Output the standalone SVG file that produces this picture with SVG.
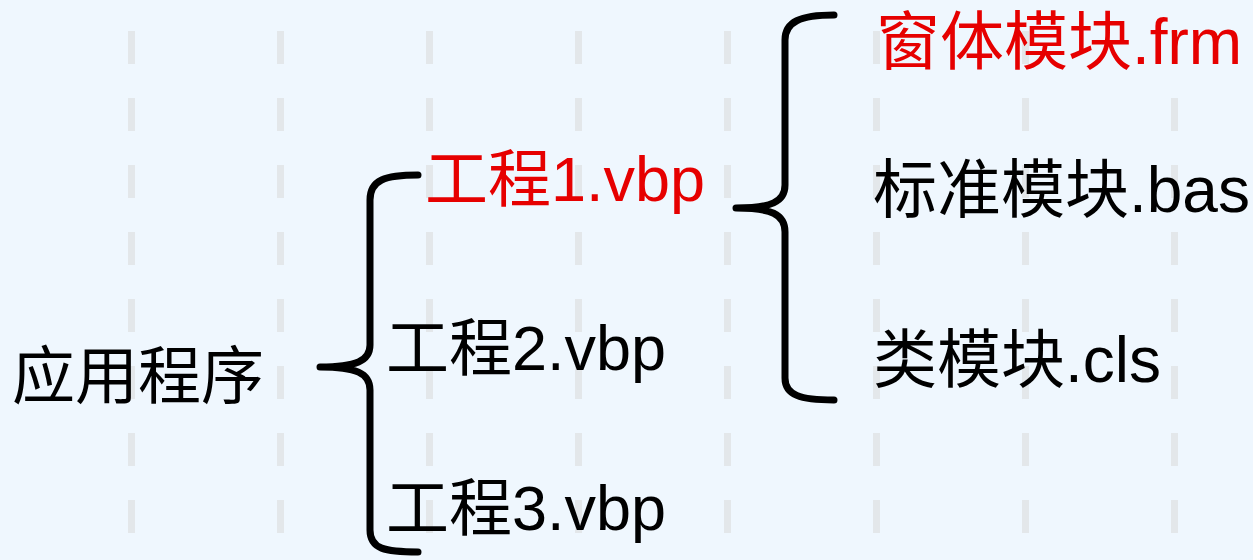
<svg xmlns="http://www.w3.org/2000/svg" width="1253" height="560" viewBox="0 0 1253 560">
  <style>
    .grid { stroke: #E3E7EA; stroke-width: 7; stroke-dasharray: 33 34; fill: none; }
    .brace { stroke: #000000; stroke-width: 7; fill: none; stroke-linecap: round; stroke-linejoin: round; }
    .t { font-family: "Liberation Sans", "Noto Sans CJK SC", sans-serif; font-size: 63px; fill: #000000; }
    .big { font-size: 64px; }
    .red { fill: #E60000; }
  </style>
  <rect x="0" y="0" width="1253" height="560" fill="#EFF7FE"/>
  <g id="grid">
    <line class="grid" x1="131.5" y1="31" x2="131.5" y2="534"/>
    <line class="grid" x1="280.5" y1="31" x2="280.5" y2="534"/>
    <line class="grid" x1="429.5" y1="31" x2="429.5" y2="534"/>
    <line class="grid" x1="578.5" y1="31" x2="578.5" y2="534"/>
    <line class="grid" x1="727.5" y1="31" x2="727.5" y2="534"/>
    <line class="grid" x1="876.5" y1="31" x2="876.5" y2="534"/>
    <line class="grid" x1="1025.5" y1="31" x2="1025.5" y2="534"/>
    <line class="grid" x1="1174.5" y1="31" x2="1174.5" y2="534"/>
  </g>
  <g id="connectors">
    <path class="brace" d="M418,175 C385,175 370,180 370,200 L370,345 C370,361 356,367 320,367 C356,367 370,373 370,390 L370,530 C370,549 385,552 418,552"/>
    <path class="brace" d="M834,15 C800,15 785,22 785,40 L785,185 C785,202 771,208 736,208 C771,208 785,214 785,232 L785,378 C785,395 800,400 834,400"/>
  </g>
  <g id="app"><text class="t" x="12" y="398">应用程序</text></g>
  <g id="proj1"><text class="t red" x="425" y="201">工程1.vbp</text></g>
  <g id="proj2"><text class="t" x="386" y="370">工程2.vbp</text></g>
  <g id="proj3"><text class="t" x="386" y="530">工程3.vbp</text></g>
  <g id="frm"><text class="t big red" x="876" y="64">窗体模块.frm</text></g>
  <g id="bas"><text class="t big" x="873" y="212">标准模块.bas</text></g>
  <g id="cls"><text class="t big" x="873" y="382">类模块.cls</text></g>
</svg>
